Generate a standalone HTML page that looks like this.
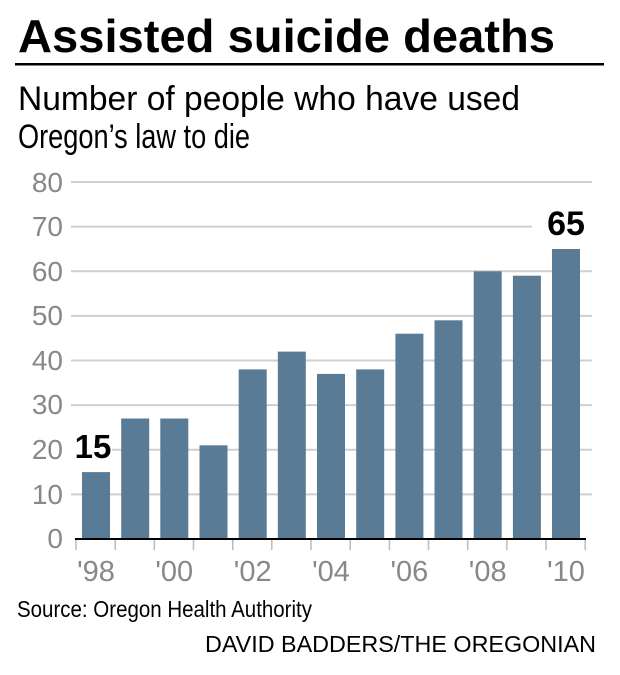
<!DOCTYPE html>
<html><head><meta charset="utf-8"><style>
html,body{margin:0;padding:0;background:#fff;}
svg{display:block;}
</style></head><body>
<svg width="620" height="675" viewBox="0 0 620 675" xmlns="http://www.w3.org/2000/svg" font-family="Liberation Sans, sans-serif">
<text x="18" y="52" font-size="46" font-weight="bold" textLength="537" lengthAdjust="spacingAndGlyphs">Assisted suicide deaths</text>
<rect x="15" y="63" width="589" height="2.5" fill="#000"/>
<text x="18" y="110" font-size="34" textLength="502" lengthAdjust="spacingAndGlyphs">Number of  people who have used</text>
<text x="18" y="148" font-size="34" textLength="232" lengthAdjust="spacingAndGlyphs">Oregon’s law to die</text>
<g stroke="#cfcfcf" stroke-width="2">
<line x1="71" x2="592" y1="182" y2="182"/>
<line x1="71" x2="532" y1="226.6" y2="226.6"/>
<line x1="71" x2="592" y1="271.3" y2="271.3"/>
<line x1="71" x2="592" y1="315.9" y2="315.9"/>
<line x1="71" x2="592" y1="360.5" y2="360.5"/>
<line x1="71" x2="592" y1="405.1" y2="405.1"/>
<line x1="112" x2="592" y1="449.8" y2="449.8"/>
<line x1="71" x2="592" y1="494.4" y2="494.4"/>
</g>
<g fill="#888" font-size="28" text-anchor="end">
<text x="63" y="192">80</text><text x="63" y="236">70</text><text x="63" y="281">60</text><text x="63" y="325">50</text><text x="63" y="370">40</text><text x="63" y="414">30</text><text x="63" y="459">20</text><text x="63" y="504">10</text><text x="63" y="548">0</text>
</g>
<g fill="#5a7b96">
<rect x="82" y="472.1" width="28" height="66.9"/>
<rect x="121.2" y="418.5" width="28" height="120.5"/>
<rect x="160.3" y="418.5" width="28" height="120.5"/>
<rect x="199.5" y="445.3" width="28" height="93.7"/>
<rect x="238.7" y="369.4" width="28" height="169.6"/>
<rect x="277.8" y="351.6" width="28" height="187.4"/>
<rect x="317" y="373.9" width="28" height="165.1"/>
<rect x="356.2" y="369.4" width="28" height="169.6"/>
<rect x="395.4" y="333.7" width="28" height="205.3"/>
<rect x="434.5" y="320.3" width="28" height="218.7"/>
<rect x="473.7" y="271.3" width="28" height="267.7"/>
<rect x="512.9" y="275.7" width="28" height="263.3"/>
<rect x="552" y="249" width="28" height="290"/>
</g>
<rect x="75" y="538" width="511" height="2" fill="#000"/>
<g stroke="#bbb" stroke-width="1.5">
<line x1="76" x2="76" y1="540" y2="550"/><line x1="115.2" x2="115.2" y1="540" y2="550"/><line x1="154.3" x2="154.3" y1="540" y2="550"/><line x1="193.5" x2="193.5" y1="540" y2="550"/><line x1="232.7" x2="232.7" y1="540" y2="550"/><line x1="271.8" x2="271.8" y1="540" y2="550"/><line x1="311" x2="311" y1="540" y2="550"/><line x1="350.2" x2="350.2" y1="540" y2="550"/><line x1="389.4" x2="389.4" y1="540" y2="550"/><line x1="428.5" x2="428.5" y1="540" y2="550"/><line x1="467.7" x2="467.7" y1="540" y2="550"/><line x1="506.9" x2="506.9" y1="540" y2="550"/><line x1="546" x2="546" y1="540" y2="550"/><line x1="585.2" x2="585.2" y1="540" y2="550"/>
</g>
<g fill="#888" font-size="29" text-anchor="middle">
<text x="96" y="581">'98</text><text x="174.3" y="581">'00</text><text x="252.7" y="581">'02</text><text x="331" y="581">'04</text><text x="409.4" y="581">'06</text><text x="487.7" y="581">'08</text><text x="566" y="581">'10</text>
</g>
<text x="93" y="458" font-size="33" font-weight="bold" text-anchor="middle">15</text>
<text x="566" y="235" font-size="34" font-weight="bold" text-anchor="middle">65</text>
<text x="17" y="617" font-size="23" textLength="295" lengthAdjust="spacingAndGlyphs">Source: Oregon Health Authority</text>
<text x="205" y="652" font-size="23" textLength="391" lengthAdjust="spacingAndGlyphs">DAVID BADDERS/THE OREGONIAN</text>
</svg>
</body></html>
